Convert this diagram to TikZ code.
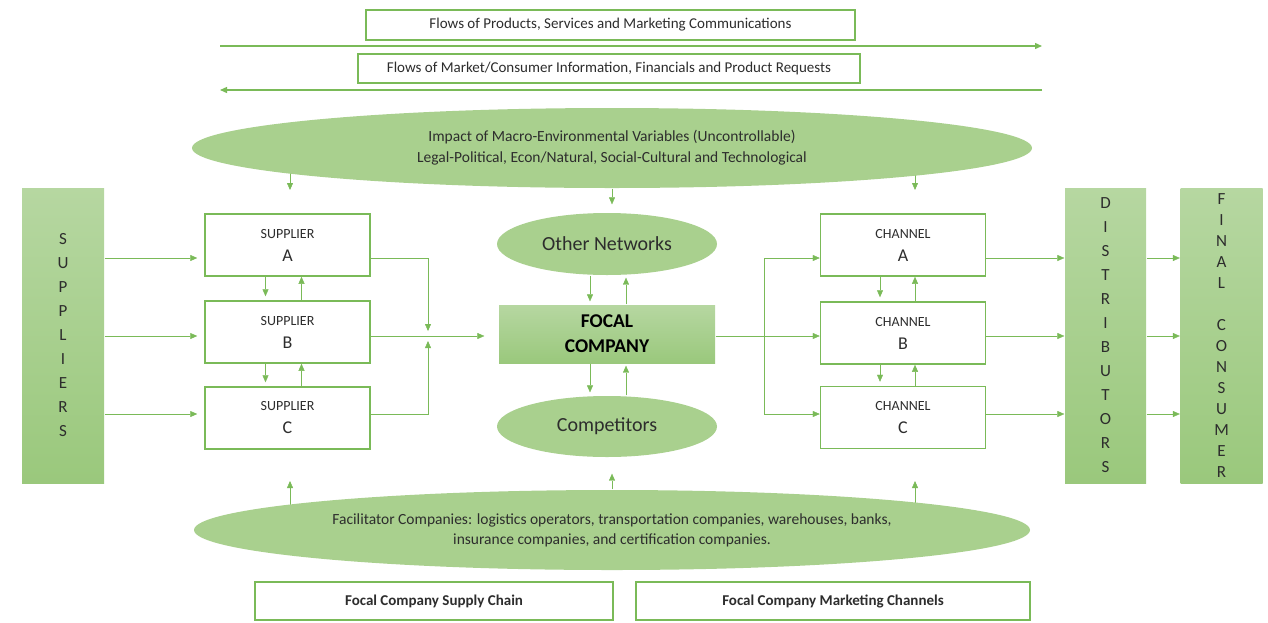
\documentclass[tikz,border=0pt]{standalone}
\usepackage{fontspec}
\setmainfont{Carlito}
\usetikzlibrary{arrows.meta,shapes.geometric,backgrounds}

\definecolor{flowgreen}{RGB}{122,186,88}
\definecolor{fillgreen}{RGB}{169,208,142}
\definecolor{fillgreentop}{RGB}{182,215,161}
\definecolor{fillgreenbot}{RGB}{154,200,124}
\definecolor{textgray}{RGB}{45,45,45}

\begin{document}
\begin{tikzpicture}[x=1pt,y=-1pt,>={Triangle[length=7pt,width=6pt]},line width=1.3pt,
    flow/.style={->,draw=flowgreen},
    link/.style={draw=flowgreen},
    label box/.style={rectangle,draw=flowgreen,line width=1.5pt,fill=white,inner sep=0pt,text=textgray,font=\fontsize{15}{17}\selectfont},
    unit box/.style={rectangle,draw=flowgreen,line width=1.5pt,fill=white,inner sep=0pt,minimum width=165pt,minimum height=62pt,align=center,text=textgray,font=\fontsize{14}{23}\selectfont},
    side bar/.style={rectangle,top color=fillgreentop,bottom color=fillgreenbot,draw=none,inner sep=0pt,minimum width=82pt,minimum height=295pt,align=center,text=textgray,font=\fontsize{17}{24}\selectfont},
    oval/.style={ellipse,fill=fillgreen,draw=none,inner sep=0pt,align=center,text=textgray}]

    \useasboundingbox (0,0) rectangle (1268,622);

    % flows across the chain
    \node[label box, minimum width=489pt, minimum height=30pt] (flowfwd) at (610.5,25) {Flows of Products, Services and Marketing Communications};
    \node[label box, minimum width=502pt, minimum height=29pt] (flowback) at (609,68.5) {Flows of Market/Consumer Information, Financials and Product Requests};
    \coordinate (fwdL) at (220,46);
    \coordinate (fwdR) at (1042,46);
    \coordinate (backL) at (220,90);
    \coordinate (backR) at (1042,90);

    % environment
    \node[oval, minimum width=840pt, minimum height=80pt, font=\fontsize{15.5}{21}\selectfont] (macro) at (612,148) {Impact of Macro-Environmental Variables (Uncontrollable)\\Legal-Political, Econ/Natural, Social-Cultural and Technological};
    \node[oval, minimum width=836pt, minimum height=80pt, font=\fontsize{15.5}{20}\selectfont] (facil) at (612,530) {Facilitator Companies: logistics operators, transportation companies, warehouses, banks,\\insurance companies, and certification companies.};

    % supply side
    \node[side bar] (supp) at (63,335.5) {S\\U\\P\\P\\L\\I\\E\\R\\S};
    \node[unit box] (supA) at (287.5,245) {SUPPLIER\\{\fontsize{18}{20}\selectfont A}};
    \node[unit box] (supB) at (287.5,332) {SUPPLIER\\{\fontsize{18}{20}\selectfont B}};
    \node[unit box] (supC) at (287.5,418) {SUPPLIER\\{\fontsize{18}{20}\selectfont C}};

    % focal company
    \node[oval, minimum width=220pt, minimum height=62pt, font=\fontsize{20}{22}\selectfont] (other) at (607,244) {Other Networks};
    \node[rectangle, top color=fillgreentop, bottom color=fillgreenbot, inner sep=0pt, minimum width=216pt, minimum height=58pt, align=center, text=black, font=\fontsize{19.5}{25}\bfseries] (focal) at (607,334) {FOCAL\\COMPANY};
    \node[oval, minimum width=220pt, minimum height=61pt, font=\fontsize{20}{22}\selectfont] (comp) at (607,426.5) {Competitors};

    % marketing side
    \node[unit box] (chA) at (903,245) {CHANNEL\\{\fontsize{18}{20}\selectfont A}};
    \node[unit box] (chB) at (903,333) {CHANNEL\\{\fontsize{18}{20}\selectfont B}};
    \node[unit box] (chC) at (903,417.5) {CHANNEL\\{\fontsize{18}{20}\selectfont C}};
    \node[side bar, minimum width=81pt] (dist) at (1105.5,335.5) {D\\I\\S\\T\\R\\I\\B\\U\\T\\O\\R\\S};
    \node[side bar, font=\fontsize{17}{21}\selectfont] (cons) at (1221.5,335.5) {F\\I\\N\\A\\L\\[21pt]C\\O\\N\\S\\U\\M\\E\\R};

    % captions
    \node[label box, minimum width=358pt, minimum height=38pt, font=\fontsize{15}{17}\bfseries] (scbox) at (434,601) {Focal Company Supply Chain};
    \node[label box, minimum width=394pt, minimum height=38pt, font=\fontsize{15}{17}\bfseries] (mcbox) at (833,601) {Focal Company Marketing Channels};

    \coordinate (rowA) at (0,258);
    \coordinate (rowB) at (0,336);
    \coordinate (rowC) at (0,414);
    \coordinate (joinA) at (428,331);
    \coordinate (joinC) at (428,341);
    \coordinate (split) at (764,336);
    \coordinate (envL) at (290,190);
    \coordinate (envR) at (915,190);
    \coordinate (facL) at (290,481);
    \coordinate (facR) at (915,481);

    \draw[flow] (fwdL) -- (fwdR);
    \draw[flow] (backR) -- (backL);

    % side arrows start under the ovals
    \begin{pgfonlayer}{background}
        \draw[flow] (envL |- macro.center) -- (envL);
        \draw[flow] (envR |- macro.center) -- (envR);
        \draw[flow] (facL |- facil.center) -- (facL);
        \draw[flow] (facR |- facil.center) -- (facR);
    \end{pgfonlayer}
    \draw[flow, shorten >=8pt] (macro.south) -- (macro.south |- other.north);
    \draw[flow, shorten >=16pt] (facil.north) -- (facil.north |- comp.south);

    \path
        (supp.east |- rowA) edge[flow, shorten >=7pt] (supA.west |- rowA)
        (supp.east |- rowB) edge[flow, shorten >=7pt] (supB.west |- rowB)
        (supp.east |- rowC) edge[flow, shorten >=7pt] (supC.west |- rowC);

    \path
        ([xshift=-22pt]supA.south) edge[flow, shorten >=4pt] ([xshift=-22pt]supB.north)
        ([xshift=-22pt]supB.south) edge[flow, shorten >=4pt] ([xshift=-22pt]supC.north)
        ([xshift=14pt]supB.north) edge[flow] ([xshift=14pt]supA.south)
        ([xshift=14pt]supC.north) edge[flow] ([xshift=14pt]supB.south);

    \draw[flow] (supA.east |- rowA) -| (joinA);
    \draw[flow] (supC.east |- rowC) -| (joinC);
    \draw[flow, shorten >=14pt] (supB.east |- rowB) -- (focal.west |- rowB);

    \path
        ([xshift=-17pt]other.south) edge[flow, shorten >=3pt] ([xshift=-17pt]focal.north)
        ([xshift=19pt]focal.north) edge[flow, shorten >=2pt] ([xshift=19pt]other.south)
        ([xshift=-17pt]focal.south) edge[flow, shorten >=3pt] ([xshift=-17pt]comp.north)
        ([xshift=19pt]comp.north) edge[flow, shorten >=2pt] ([xshift=19pt]focal.south);

    \draw[flow] (focal.east |- rowB) -- (chB.west |- rowB);
    \draw[link] (split |- rowA) -- (split |- rowC);
    \draw[flow] (split |- rowA) -- (chA.west |- rowA);
    \draw[flow] (split |- rowC) -- (chC.west |- rowC);

    \path
        ([xshift=-23pt]chA.south) edge[flow, shorten >=4pt] ([xshift=-23pt]chB.north)
        ([xshift=-23pt]chB.south) edge[flow, shorten >=4pt] ([xshift=-23pt]chC.north)
        ([xshift=12pt]chB.north) edge[flow] ([xshift=12pt]chA.south)
        ([xshift=12pt]chC.north) edge[flow] ([xshift=12pt]chB.south);

    \path
        (chA.east |- rowA) edge[flow] (dist.west |- rowA)
        (chB.east |- rowB) edge[flow] (dist.west |- rowB)
        (chC.east |- rowC) edge[flow] (dist.west |- rowC)
        (dist.east |- rowA) edge[flow] (cons.west |- rowA)
        (dist.east |- rowB) edge[flow] (cons.west |- rowB)
        (dist.east |- rowC) edge[flow] (cons.west |- rowC);
\end{tikzpicture}
\end{document}
